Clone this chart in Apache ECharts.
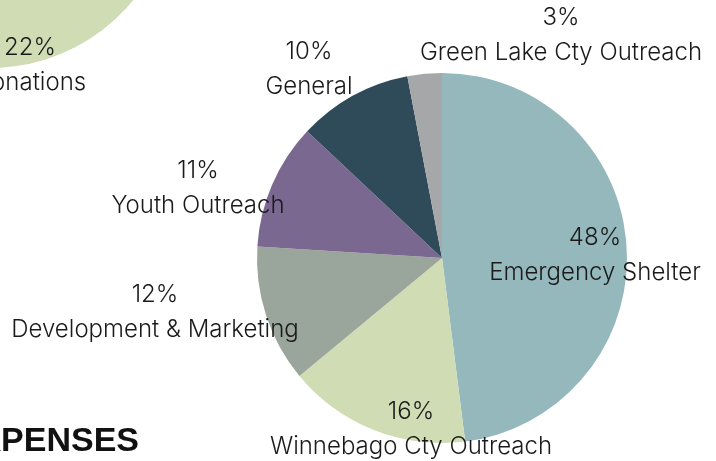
<!DOCTYPE html>
<html>
<head>
<meta charset="utf-8">
<style>
  html, body { margin: 0; padding: 0; background: #fff; }
  #chart { width: 716px; height: 461px; }
</style>
<script src="https://cdn.jsdelivr.net/npm/echarts@6/dist/echarts.min.js"></script>
</head>
<body>
<div id="chart"></div>
<script>
(function() {
    // expenses pie (main)
    var expenseNames = ["Emergency Shelter", "Winnebago Cty Outreach", "Development & Marketing",
            "Youth Outreach", "General", "Green Lake Cty Outreach"],
        expenseValues = [48, 16, 12, 11, 10, 3],
        expenseColors = ["#95b8bc", "#d0dcb4", "#9aa59b", "#7b6891", "#2f4b5a", "#a6a7a9"],
        // label block centres, hand placed like the original
        expenseLabelPos = [[595, 255], [411, 429], [155, 312], [198, 188], [309, 69], [561, 35]];

    // revenue pie, only the Donations slice shows in the corner
    var revenueNames = ["Donations"],
        revenueValues = [22];

    var font = "Inter, 'Noto Sans', sans-serif";

    var chart = echarts.init(document.getElementById("chart"), null, { renderer: "canvas" });

    var expenseData = expenseNames.map(function(n, i) {
        return {
            name: n,
            value: expenseValues[i],
            itemStyle: { color: expenseColors[i] }
        };
    });

    var revenueData = revenueNames.map(function(n, i) {
        return { name: n, value: revenueValues[i], itemStyle: { color: "#d0dcb4" } };
    });
    // rest of that pie is off screen
    revenueData.push({
        name: "",
        value: 100 - revenueValues.reduce(function(a, b) { return a + b; }, 0),
        itemStyle: { color: "transparent" },
        label: { show: false }
    });

    var labelStyle = {
        show: true,
        color: "#1a1a1a",
        fontFamily: font,
        fontSize: 24,
        fontWeight: 300,
        lineHeight: 35,
        align: "center",
        formatter: function(p) {
            return p.value + "%\n" + p.name;
        }
    };

    var option = {
        backgroundColor: "#fff",
        animation: false,
        graphic: [{
            type: "text",
            style: {
                x: 139,
                y: 442,
                align: "right",
                verticalAlign: "middle",
                text: "EXPENSES",
                fill: "#111",
                font: "bold 34px 'Liberation Sans', Arial, sans-serif"
            }
        }],
        series: [{
                name: "Revenue",
                type: "pie",
                center: [-10, -117],
                radius: 185,
                startAngle: -23,
                silent: true,
                avoidLabelOverlap: false,
                label: labelStyle,
                labelLine: { show: false },
                labelLayout: function() {
                    return { x: 30, y: 65, align: "center", verticalAlign: "middle" };
                },
                itemStyle: { borderWidth: 0 },
                data: revenueData
            },
            {
                name: "Expenses",
                type: "pie",
                center: [442, 258],
                radius: 185,
                startAngle: 90,
                clockwise: true,
                avoidLabelOverlap: false,
                label: labelStyle,
                labelLine: { show: false },
                labelLayout: function(params) {
                    var p = expenseLabelPos[params.dataIndex];
                    return { x: p[0], y: p[1], align: "center", verticalAlign: "middle" };
                },
                itemStyle: { borderWidth: 0 },
                emphasis: { disabled: true },
                data: expenseData
            }
        ]
    };

    chart.setOption(option);
}());
</script>
</body>
</html>
